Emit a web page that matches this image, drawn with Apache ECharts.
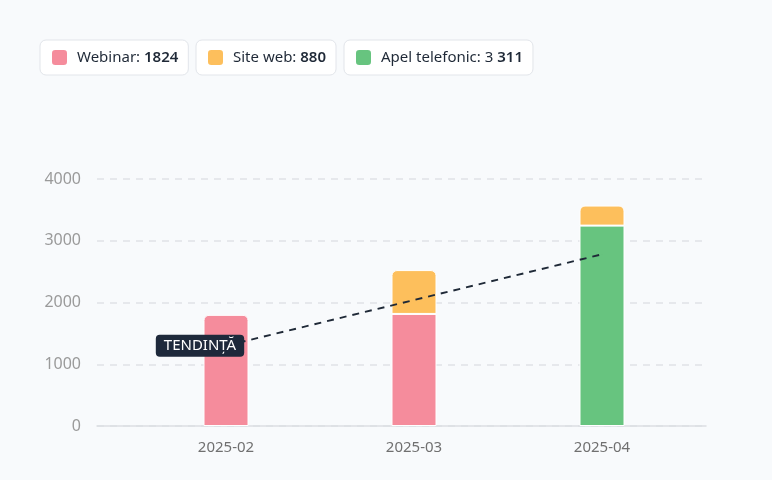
<!DOCTYPE html>
<html><head><meta charset="utf-8">
<script src="https://cdn.jsdelivr.net/npm/echarts@6/dist/echarts.min.js"></script>
<style>html,body{margin:0;padding:0;background:#f8fafc}#c{width:772px;height:480px}</style>
</head><body><div id="c"></div>
<script>
const categories = ['2025-02', '2025-03', '2025-04'];
const webinar = [1800, 1815, null];
const apel = [null, null, 3245];
const siteWeb = [null, 710, 325];
const trend = [1300, null, 2780];
const stackNames = ['Webinar', 'Apel telefonic', 'Site web'];
const legendNames = ['Webinar', 'Site web', 'Apel telefonic'];
const legendValues = ['{b|1824}', '{b|880}', '3 {b|311}'];
const trendLabel = 'TENDINȚĂ';
const yMin = 0, yMax = 4000, yStep = 1000;

const colors = { 'Webinar': '#f58c9c', 'Site web': '#fdbf5c', 'Apel telefonic': '#67c47f' };
const allSeries = [webinar, apel, siteWeb];
const font = 'Noto Sans';

function topIndex(ci) {
  let t = -1;
  allSeries.forEach((s, si) => { if (s[ci] != null) t = si; });
  return t;
}

const barSeries = allSeries.map((arr, si) => ({
  name: stackNames[si],
  type: 'bar',
  stack: 'total',
  xAxisIndex: 1, yAxisIndex: 1,
  barWidth: 45,
  itemStyle: { color: colors[stackNames[si]], borderColor: '#ffffff', borderWidth: 1 },
  data: arr.map((v, ci) => v == null ? null : {
    value: v,
    itemStyle: { borderRadius: topIndex(ci) === si ? [5, 5, 0, 0] : 0 }
  })
}));

const legendLefts = [40, 196, 344];
const legends = legendNames.map((n, i) => ({
  data: [n],
  left: legendLefts[i], top: 40,
  orient: 'horizontal',
  selectedMode: false,
  icon: 'roundRect',
  itemWidth: 17, itemHeight: 17,
  padding: [8, 10, 8, 10],
  backgroundColor: '#ffffff',
  borderColor: '#e2e5ea', borderWidth: 1, borderRadius: 6,
  formatter: name => name + ': ' + legendValues[i],
  textStyle: {
    fontFamily: font, fontSize: 15, color: '#1f2937', padding: [0, 0, 0, 4],
    rich: { b: { fontFamily: font, fontSize: 15, fontWeight: 600, color: '#1f2937' } }
  }
}));

const chart = echarts.init(document.getElementById('c'));
chart.setOption({
  animation: false,
  backgroundColor: '#f8fafc',
  textStyle: { fontFamily: font },
  legend: legends,
  grid: [
    { left: 97, right: 66, top: 179, bottom: 54 },
    { left: 132, right: 76, top: 179, bottom: 54 }
  ],
  xAxis: [
    { gridIndex: 0, type: 'category', data: categories,
      axisLine: { show: true, lineStyle: { color: '#dcdee2', width: 1.5 } },
      axisTick: { show: false }, axisLabel: { show: false }, splitLine: { show: false } },
    { gridIndex: 1, type: 'category', data: categories,
      axisLine: { show: false }, axisTick: { show: false },
      axisLabel: { color: '#707070', fontSize: 15, fontFamily: font, margin: 14 } }
  ],
  yAxis: [
    { gridIndex: 0, type: 'value', min: yMin, max: yMax, interval: yStep,
      axisLine: { show: false }, axisTick: { show: false },
      axisLabel: { color: '#9a9a9a', fontSize: 16, fontFamily: font, margin: 16,
        formatter: v => String(v) },
      splitLine: { lineStyle: { color: '#e0e2e6', width: 1.5, type: [7, 6] } } },
    { gridIndex: 1, type: 'value', min: yMin, max: yMax, interval: yStep, show: false,
      splitLine: { show: false } }
  ],
  series: barSeries.concat([{
    name: 'trend',
    type: 'line',
    xAxisIndex: 1, yAxisIndex: 1,
    connectNulls: true,
    symbol: 'circle', symbolSize: 0.1,
    z: 5,
    lineStyle: { color: '#1f2937', width: 1.9, type: [7, 6] },
    itemStyle: { color: '#1f2937' },
    data: trend.map((v, i) => i === 0 ? {
      value: v,
      label: {
        show: true, position: 'inside', offset: [-26, 0], formatter: trendLabel,
        backgroundColor: '#1e293b', color: '#ffffff', fontFamily: font, fontSize: 15,
        padding: [4, 8, 3, 8], borderRadius: 4
      }
    } : v)
  }])
});
</script></body></html>
